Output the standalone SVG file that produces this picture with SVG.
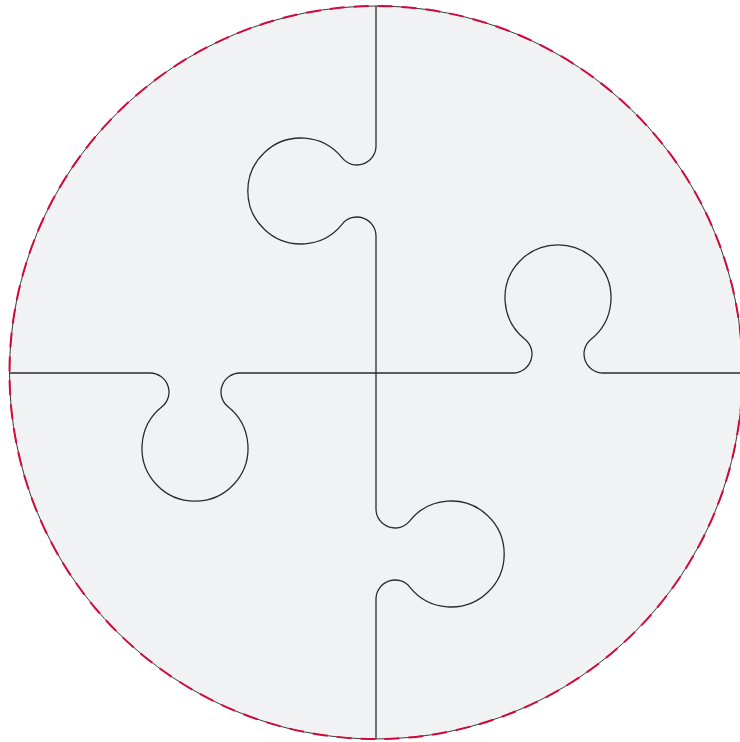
<svg xmlns="http://www.w3.org/2000/svg" width="740" height="742" viewBox="0 0 740 742">
  <style>
    .piece { fill: #f1f2f4; stroke: none; }
    .cut { fill: none; stroke: #2b2b2b; stroke-width: 1.3; }
    .rim { fill: none; stroke: #3a3a3a; stroke-width: 1; }
    .rim-dash { fill: none; stroke: #d20a3c; stroke-width: 2; stroke-dasharray: 15 9; }
  </style>
  <defs>
    <clipPath id="disc">
      <circle cx="376" cy="372.5" r="366.5"/>
    </clipPath>
  </defs>
  <rect width="740" height="742" fill="#ffffff"/>
  <g clip-path="url(#disc)">
    <g id="piece-top-left">
      <path class="piece" d="M-20,-20 H376 V146 A19,19 0 0 1 342.2,157.9 A53,53 0 1 0 342.2,224.1 A19,19 0 0 1 376,236 V373 H240 A19,19 0 0 0 228.1,406.8 A53,53 0 1 1 161.9,406.8 A19,19 0 0 0 150,373 H-20 Z"/>
    </g>
    <g id="piece-top-right">
      <path class="piece" d="M376,-20 V146 A19,19 0 0 1 342.2,157.9 A53,53 0 1 0 342.2,224.1 A19,19 0 0 1 376,236 V373 H513 A19,19 0 0 0 524.9,339.2 A53,53 0 1 1 591.1,339.2 A19,19 0 0 0 603,373 H760 V-20 Z"/>
    </g>
    <g id="piece-bottom-left">
      <path class="piece" d="M-20,373 H150 A19,19 0 0 1 161.9,406.8 A53,53 0 1 0 228.1,406.8 A19,19 0 0 1 240,373 H376 V509 A19,19 0 0 0 409.8,520.9 A53,53 0 1 1 409.8,587.1 A19,19 0 0 0 376,599 V760 H-20 Z"/>
    </g>
    <g id="piece-bottom-right">
      <path class="piece" d="M760,373 H603 A19,19 0 0 1 591.1,339.2 A53,53 0 1 0 524.9,339.2 A19,19 0 0 1 513,373 H376 V509 A19,19 0 0 0 409.8,520.9 A53,53 0 1 1 409.8,587.1 A19,19 0 0 0 376,599 V760 H760 Z"/>
    </g>
    <g id="cuts">
      <path class="cut" d="M376,-20 V146 A19,19 0 0 1 342.2,157.9 A53,53 0 1 0 342.2,224.1 A19,19 0 0 1 376,236 V373"/>
      <path class="cut" d="M376,373 H513 A19,19 0 0 0 524.9,339.2 A53,53 0 1 1 591.1,339.2 A19,19 0 0 0 603,373 H760"/>
      <path class="cut" d="M-20,373 H150 A19,19 0 0 1 161.9,406.8 A53,53 0 1 0 228.1,406.8 A19,19 0 0 1 240,373 H376"/>
      <path class="cut" d="M376,373 V509 A19,19 0 0 0 409.8,520.9 A53,53 0 1 1 409.8,587.1 A19,19 0 0 0 376,599 V760"/>
    </g>
  </g>
  <g id="rim">
    <circle class="rim" cx="376" cy="372.5" r="366.5"/>
    <circle class="rim-dash" cx="376" cy="372.5" r="366.5"/>
  </g>
</svg>
